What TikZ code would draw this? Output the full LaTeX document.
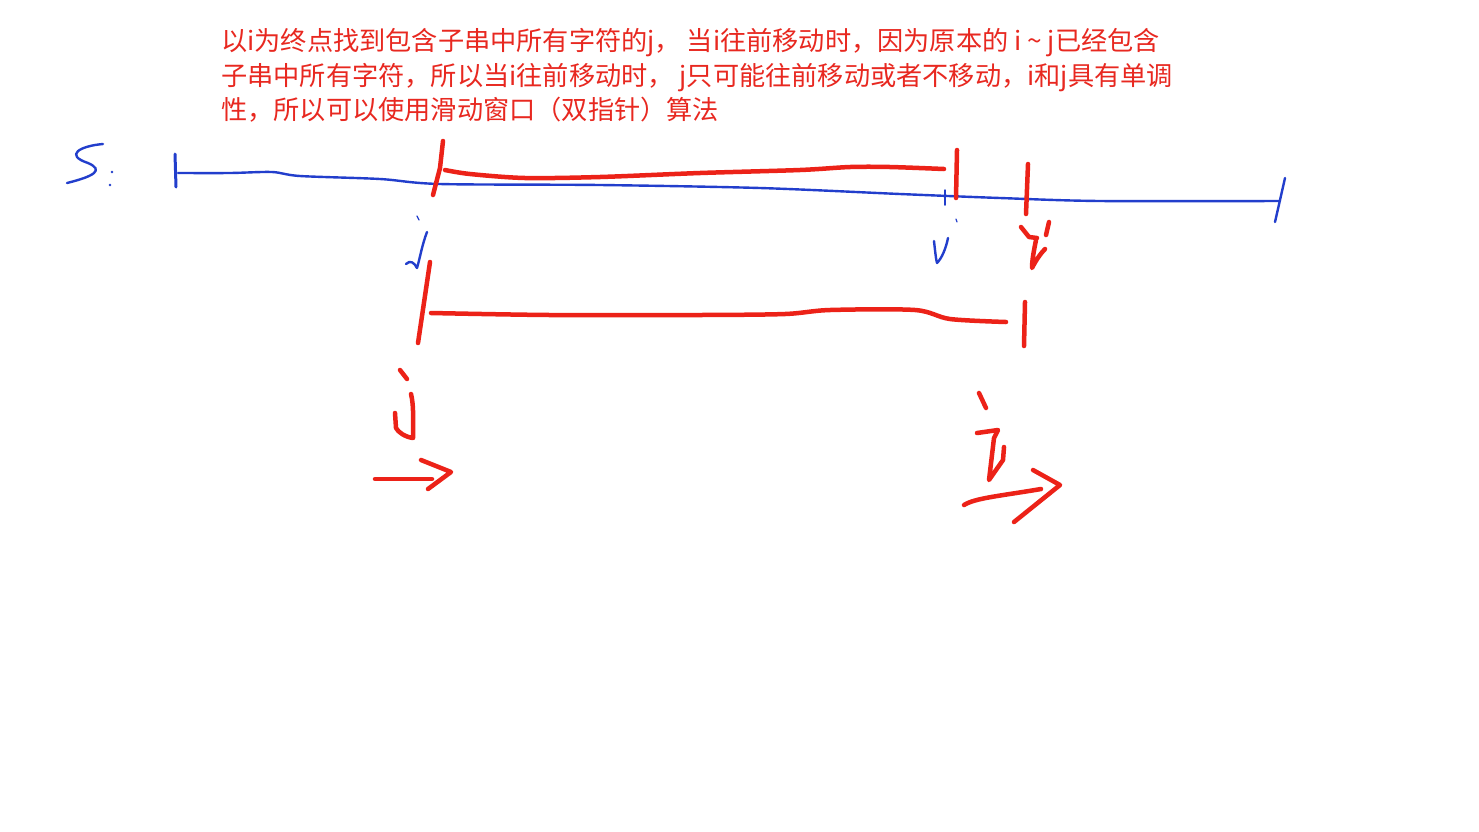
\documentclass[tikz,border=0pt]{standalone}
\usepackage{fontspec}
\newfontfamily\cjk{Noto Sans CJK SC}
\definecolor{inkred}{RGB}{236,34,24}
\definecolor{inkblue}{RGB}{34,62,204}
\definecolor{notered}{RGB}{232,40,32}

\begin{document}
\begin{tikzpicture}
  [x=1pt,y=-1pt,
   note/.style={anchor=base west,inner sep=0pt,text=notered,font=\cjk\fontsize{26.2}{30}\selectfont},
   red ink/.style={draw=inkred,line width=4.5pt,line cap=round,line join=round},
   blue ink/.style={draw=inkblue,line width=2.4pt,line cap=round,line join=round}]
  \useasboundingbox[fill=white] (0,0) rectangle (1479,831);

  % the remark on top
  \node[note] (l1) at (221,50) {以i为终点找到包含子串中所有字符的j， 当i往前移动时，因为原本的 i \~{} j已经包含};
  \node[note] (l2) at (221,85) {子串中所有字符，所以当i往前移动时， j只可能往前移动或者不移动，i和j具有单调};
  \node[note] (l3) at (221,119) {性，所以可以使用滑动窗口（双指针）算法};

  % the string s
  \draw[blue ink] (67,183) .. controls (95,176) and (104,170) .. (88,163)
    .. controls (64,155) and (80,146) .. (103,144);
  \fill[inkblue] (112,172) circle (1.3);
  \fill[inkblue] (110,185) circle (1.3);
  \draw[blue ink,line width=3pt] (175,154) -- (176,187);
  \draw[blue ink] plot[smooth] coordinates {(178,173) (230,173) (272,172) (300,176)
    (380,179) (440,184) (600,185) (760,188) (900,194) (1000,198) (1100,201) (1280,201)};
  \draw[blue ink] (1285,178) -- (1275,222);
  \draw[blue ink,line width=1.5pt] (945,190) -- (945,205);

  % blue j and i
  \draw[blue ink,line width=1.2pt] (417,216) -- (419,220);
  \draw[blue ink] (427,232) .. controls (422,245) and (420,258) .. (417,268)
    .. controls (414,262) and (410,260) .. (406,264);
  \draw[blue ink] (934,241) .. controls (935,250) and (936,260) .. (937,263)
    .. controls (942,258) and (946,248) .. (948,238);
  \draw[blue ink,line width=1.2pt] (956,219) -- (957,222);

  % window before i moves
  \draw[red ink] (443,141) -- (440,168) -- (433,195);
  \draw[red ink] plot[smooth] coordinates {(445,170) (470,174) (525,178) (600,177)
    (700,173) (800,170) (850,167) (890,167) (944,169)};
  \draw[red ink] (957,150) -- (956,198);
  \draw[red ink] (1028,164) -- (1026,214);
  \draw[red ink] (1021,227) -- (1029,237) -- (1037,238);
  \draw[red ink] (1036,240) .. controls (1034,250) and (1032,260) .. (1032,268)
    .. controls (1036,260) and (1041,253) .. (1045,249);
  \draw[red ink] (1049,222) -- (1046,235);

  % window after i moves
  \draw[red ink] (430,262) -- (418,343);
  \draw[red ink] plot[smooth] coordinates {(431,313) (550,315) (700,315)
    (785,314) (830,310) (915,310) (950,319) (1006,322)};
  \draw[red ink] (1025,302) -- (1024,346);

  % red j with its arrow
  \draw[red ink] (400,370) -- (407,379);
  \draw[red ink] (411,394) .. controls (414,405) and (413,425) .. (413,438)
    .. controls (405,437) and (398,432) .. (396,428) -- (395,413);
  \draw[red ink] (375,479) -- (432,479);
  \draw[red ink] (421,460) -- (451,472) -- (428,489);

  % red i with its arrow
  \draw[red ink] (979,393) -- (986,408);
  \draw[red ink] (977,433) -- (998,430) -- (994,438) -- (989,480)
    -- (1003,460) -- (1004,447);
  \draw[red ink] (964,505) .. controls (975,498) and (1000,496) .. (1041,489);
  \draw[red ink] (1033,470) -- (1060,485) -- (1014,522);
\end{tikzpicture}
\end{document}
